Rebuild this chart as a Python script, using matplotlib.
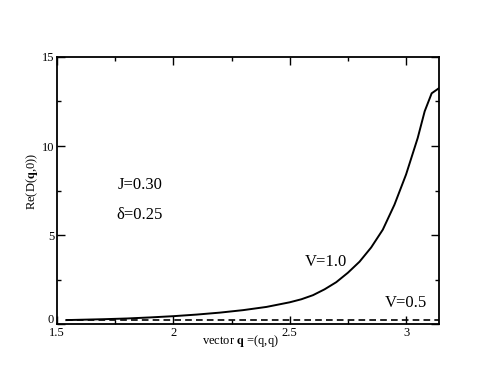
import matplotlib
matplotlib.use("Agg")
import matplotlib.pyplot as plt
import matplotlib.transforms as mtransforms
from matplotlib.ticker import MultipleLocator
import numpy as np

# curve data
q_v10 = [1.54, 1.7, 1.8, 1.9, 2.0, 2.1, 2.2, 2.3, 2.4, 2.5, 2.55, 2.6, 2.65,
         2.7, 2.75, 2.8, 2.85, 2.9, 2.95, 3.0, 3.05, 3.08, 3.11, 3.1416]
re_v10 = [0.22, 0.27, 0.31, 0.37, 0.44, 0.53, 0.64, 0.78, 0.96, 1.22, 1.39,
          1.62, 1.95, 2.35, 2.88, 3.50, 4.30, 5.30, 6.70, 8.40, 10.45, 11.95,
          12.96, 13.25]
q_v05 = [1.54, 3.1416]
re_v05 = [0.22, 0.22]

labels = {"V=1.0": (2.565, 3.25), "V=0.5": (2.91, 0.95),
          "J=0.30": (1.76, 7.6), "δ=0.25": (1.755, 5.9)}

plt.rcParams["font.family"] = ["Liberation Serif", "DejaVu Serif"]
plt.rcParams["mathtext.fontset"] = "stix"

fig = plt.figure(figsize=(4.94, 3.82), dpi=100)
ax = fig.add_axes([0.1154, 0.1518, 0.7733, 0.699])

ax.plot(q_v10, re_v10, color="black", lw=1.4)
ax.plot(q_v05, re_v05, color="black", lw=1.2, ls=(0, (4, 2.5)))

for text, (x, y) in labels.items():
    ax.text(x, y, text, fontsize=12)

ax.set_xlim(1.5, np.pi)
ax.set_ylim(0, 15)
ax.xaxis.set_major_locator(MultipleLocator(0.5))
ax.xaxis.set_minor_locator(MultipleLocator(0.25))
ax.yaxis.set_major_locator(MultipleLocator(5))
ax.yaxis.set_minor_locator(MultipleLocator(2.5))
ax.tick_params(which="both", direction="in", top=True, right=True,
               labelsize=9, width=1)
ax.tick_params(which="major", length=6)
ax.tick_params(which="minor", length=3)
ax.tick_params(axis="x", pad=2)
ax.tick_params(axis="y", pad=2)
ax.set_xticks([1.5, 2, 2.5, 3])
ax.set_xticklabels(["1.5", "2", "2.5", "3"])
ax.set_yticks([0, 5, 10, 15])
ax.set_yticklabels(["0", "5", "10", "15"])
for s in ax.spines.values():
    s.set_linewidth(1.3)

# nudge the "0" label up so it clears "1.5"
zero = ax.get_yticklabels()[0]
zero.set_transform(zero.get_transform()
                   + mtransforms.ScaledTranslation(0, 4 / 72, fig.dpi_scale_trans))

ax.set_xlabel(r"vector $\mathbf{q}$ =(q,q)", fontsize=9)
ax.xaxis.set_label_coords(0.48, -0.035, transform=ax.transAxes)
ax.xaxis.label.set_va("top")
ax.set_ylabel(r"Re(D($\mathbf{q}$,0))", fontsize=9)
ax.yaxis.set_label_coords(-0.045, 0.535, transform=ax.transAxes)

fig.savefig("out.png", dpi=100)
